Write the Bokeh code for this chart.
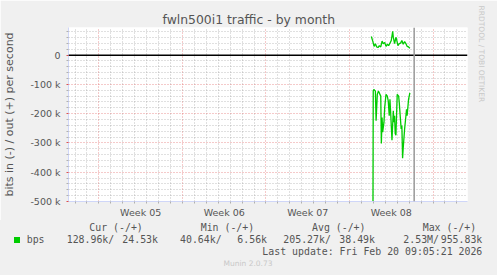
from bokeh.plotting import figure
from bokeh.layouts import column
from bokeh.models import Range1d, FixedTicker, Span, Title, Div
from bokeh.embed import file_html
from bokeh.resources import INLINE

# ---------------- data ----------------
# time in days since Monday 2026-01-26 00:00 (start of ISO week 05)
out_t = [22.83, 22.95, 23.06, 23.17, 23.28, 23.39, 23.50, 23.62, 23.73, 23.83,
         23.95, 24.06, 24.17, 24.28, 24.39, 24.50, 24.62, 24.67, 24.78, 24.89,
         24.95, 25.06, 25.17, 25.28, 25.39, 25.50, 25.62, 25.73, 25.83, 25.95,
         26.06]
out_kbps = [63.8, 48, 30, 39, 28, 26, 32.5, 28, 48, 39,
            43.6, 30, 37, 32.5, 41, 50, 81.5, 61.4, 39, 61,
            52.7, 32.5, 39, 41, 50, 37, 46, 39, 30, 28,
            23.5]
in_t = [22.85, 22.99, 23.04, 23.17, 23.23, 23.33, 23.42, 23.50, 23.62, 23.67,
        23.73, 23.78, 23.89, 23.95, 24.06, 24.17, 24.25, 24.33, 24.39, 24.45,
        24.56, 24.67, 24.73, 24.78, 24.83, 24.89, 25.00, 25.12, 25.17, 25.23,
        25.33, 25.39, 25.45, 25.50, 25.56, 25.62, 25.73, 25.78, 25.83, 25.95,
        26.06]
in_kbps = [2530, 123, 117, 123, 224, 134, 123, 129, 140, 302,
           213, 263, 229, 179, 134, 140, 157, 207, 151, 196,
           291, 190, 229, 207, 268, 274, 134, 140, 162, 196,
           252, 240, 352, 319, 285, 252, 207, 185, 207, 151,
           129]

week_bounds = [0, 7, 14, 21, 28]
week_centers = [3.5, 10.5, 17.5, 24.5]
week_labels = ["Week 05", "Week 06", "Week 07", "Week 08"]
now_marker = 26.42

ytick_vals = [-500000, -400000, -300000, -200000, -100000, 0]
ytick_labels = ["-500 k", "-400 k", "-300 k", "-200 k", "-100 k", "0"]

title = "fwln500i1 traffic - by month"
ylabel = "bits in (-) / out (+) per second"
legend_heads = ["Cur (-/+)", "Min (-/+)", "Avg (-/+)", "Max (-/+)"]
series_name = "bps"
legend_vals = ["128.96k/", "24.53k", "40.64k/", "6.56k", "205.27k/", "38.49k", "2.53M/", "955.83k"]
last_update = "Last update: Fri Feb 20 09:05:21 2026"
munin_ver = "Munin 2.0.73"
watermark = "RRDTOOL / TOBI OETIKER"

# ---------------- layout ----------------
W = 497
H1, H2 = 220, 55
FL, FR, FT, FB = 67, 468, 27, 203
X0, X1 = -2.55, 30.89
Y0, Y1 = -500000, 94400

GREEN = "#00CC00"
AXIS = "#CFD6F8"
TXT = "#555555"
BG = "#F0F0F0"

p = figure(width=W, height=H1, output_backend="svg", toolbar_location=None,
           x_range=Range1d(X0, X1), y_range=Range1d(Y0, Y1),
           min_border_left=FL, min_border_right=W - FR,
           min_border_top=FT, min_border_bottom=H1 - FB)
p.background_fill_color = "white"
p.border_fill_color = BG
p.outline_line_color = None

p.title.text = title
p.title.align = "left"
p.title.offset = 161 - FL
p.title.standoff = 2
p.title.text_font = "DejaVu Sans"
p.title.text_font_size = "12.4px"
p.title.text_font_style = "normal"
p.title.text_color = TXT

p.add_layout(Title(text=watermark, align="left", offset=-22, text_font="DejaVu Sans",
                   text_font_size="7.5px", text_font_style="normal",
                   text_color="#C8C8C8", standoff=19), "right")

# grids
day_minor = [d for d in range(-2, 31) if d % 7 != 0]
p.xgrid.ticker = FixedTicker(ticks=week_bounds, minor_ticks=day_minor)
p.xgrid.grid_line_color = "#DE4F4F"
p.xgrid.grid_line_alpha = 0.6
p.xgrid.grid_line_dash = "1 2"
p.xgrid.minor_grid_line_color = "#8F8F8F"
p.xgrid.minor_grid_line_alpha = 0.55
p.xgrid.minor_grid_line_dash = "1 2"

y_minor = [v for v in range(-480000, 94000, 20000) if v % 100000 != 0]
p.ygrid.ticker = FixedTicker(ticks=ytick_vals, minor_ticks=y_minor)
p.ygrid.grid_line_color = "#DE4F4F"
p.ygrid.grid_line_alpha = 0.6
p.ygrid.grid_line_dash = "1 2"
p.ygrid.minor_grid_line_color = "#8F8F8F"
p.ygrid.minor_grid_line_alpha = 0.55
p.ygrid.minor_grid_line_dash = "1 2"

# axes
xa = p.xaxis[0]
xa.ticker = FixedTicker(ticks=week_centers, minor_ticks=list(range(-2, 31)))
xa.major_label_overrides = {c: l for c, l in zip(week_centers, week_labels)}
xa.major_tick_line_color = None
xa.minor_tick_line_color = "#B0B0B0"
xa.minor_tick_in = 0
xa.minor_tick_out = 2
xa.major_tick_out = 0
xa.major_label_standoff = 3
xa.axis_line_color = AXIS
xa.major_label_text_font = "DejaVu Sans"
xa.major_label_text_font_size = "9.5px"
xa.major_label_text_color = TXT

ya = p.yaxis[0]
ya.ticker = FixedTicker(ticks=ytick_vals, minor_ticks=y_minor)
ya.major_label_overrides = {v: l for v, l in zip(ytick_vals, ytick_labels)}
ya.major_tick_line_color = "#DE4F4F"
ya.major_tick_in = 0
ya.major_tick_out = 2
ya.minor_tick_line_color = "#B0B0B0"
ya.minor_tick_in = 0
ya.minor_tick_out = 2
ya.major_label_standoff = 6
ya.axis_line_color = AXIS
ya.major_label_text_font = "DejaVu Sans"
ya.major_label_text_font_size = "9.5px"
ya.major_label_text_color = TXT
ya.axis_label = ylabel
ya.axis_label_text_font = "DejaVu Sans"
ya.axis_label_text_font_size = "11px"
ya.axis_label_text_font_style = "normal"
ya.axis_label_text_color = TXT
ya.axis_label_standoff = 11

# data lines
p.line(out_t, [v * 1000 for v in out_kbps], line_color=GREEN, line_width=1.3)
p.line(in_t, [-v * 1000 for v in in_kbps], line_color=GREEN, line_width=1.3)

# zero rule and marker rule
p.add_layout(Span(location=0, dimension="width", line_color="black", line_width=1.5))
p.add_layout(Span(location=now_marker, dimension="height", line_color="#999999", line_width=1.5))

# ---------------- legend panel (HTML, absolute pixel positions) ----------------
def span(txt, left, ycenter, size="9.9px", font="DejaVu Sans Mono", color=TXT, align="left"):
    lh = 12
    top = ycenter - H1 - lh / 2
    if align == "left":
        pos = f"left:{left}px;"
    elif align == "right":
        pos = f"right:{W - left}px;"
    else:
        pos = f"left:{left - 100}px;width:200px;text-align:center;"
    return (f'<span style="position:absolute;{pos}top:{top}px;line-height:{lh}px;'
            f"font-family:'{font}';font-size:{size};color:{color};white-space:pre\">{txt}</span>")


parts = []
for txt, px in zip(legend_heads, [89.3, 200.7, 312, 422.7]):
    parts.append(span(txt, px, 227.7))
parts.append(f'<span style="position:absolute;left:14px;top:{237.3 - H1}px;width:6px;height:5.4px;background:{GREEN}"></span>')
parts.append(span(series_name, 26.7, 239.7))
for txt, px in zip(legend_vals, [66.7, 122.3, 180, 237.3, 283.3, 339.3, 403.3, 440.7]):
    parts.append(span(txt, px, 239.7))
parts.append(span(last_update, 482.3, 251.7, align="right"))
parts.append(span(munin_ver, 248, 263.7, size="7.5px", font="DejaVu Sans", color="#C8C8C8", align="center"))

html = (f'<div style="position:relative;width:{W}px;height:{H2}px;background:{BG};'
        f'margin:0;padding:0;overflow:hidden">' + "".join(parts) + "</div>")
legend_div = Div(text=html, width=W, height=H2, margin=0,
                 styles={"background-color": BG, "margin": "0", "padding": "0"})

layout = column(p, legend_div, spacing=0)
open("out.html", "w").write(file_html(layout, INLINE))
